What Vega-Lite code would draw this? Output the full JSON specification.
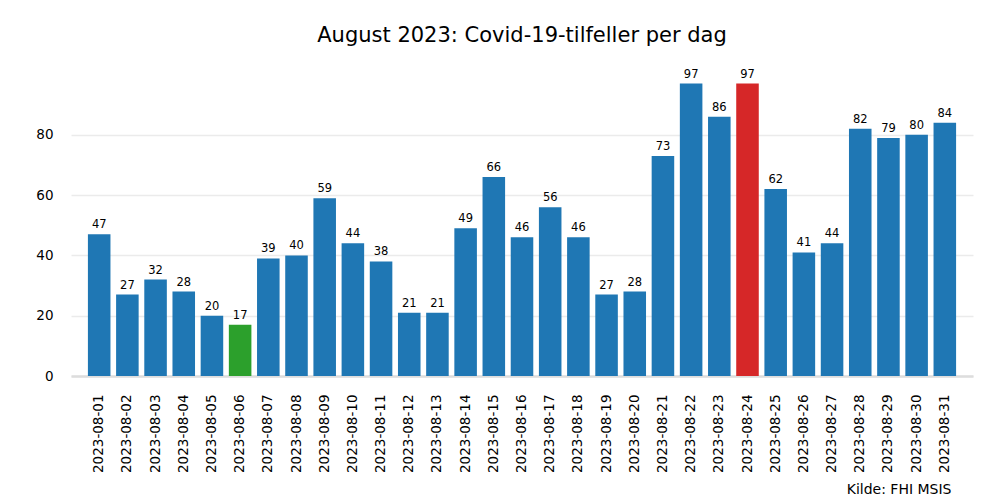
{
  "$schema": "https://vega.github.io/schema/vega-lite/v6.json",
  "width": 902,
  "height": 307,
  "autosize": "none",
  "padding": {"left": 71, "top": 69, "right": 27, "bottom": 124},
  "title": {
    "text": "August 2023: Covid-19-tilfeller per dag",
    "font": "DejaVu Sans",
    "fontSize": 21,
    "fontWeight": "normal",
    "color": "#000000",
    "anchor": "middle",
    "offset": 23
  },
  "data": {
    "values": [
      {"dato": "2023-08-01", "tilfeller": 47, "type": "vanlig"},
      {"dato": "2023-08-02", "tilfeller": 27, "type": "vanlig"},
      {"dato": "2023-08-03", "tilfeller": 32, "type": "vanlig"},
      {"dato": "2023-08-04", "tilfeller": 28, "type": "vanlig"},
      {"dato": "2023-08-05", "tilfeller": 20, "type": "vanlig"},
      {"dato": "2023-08-06", "tilfeller": 17, "type": "lavest"},
      {"dato": "2023-08-07", "tilfeller": 39, "type": "vanlig"},
      {"dato": "2023-08-08", "tilfeller": 40, "type": "vanlig"},
      {"dato": "2023-08-09", "tilfeller": 59, "type": "vanlig"},
      {"dato": "2023-08-10", "tilfeller": 44, "type": "vanlig"},
      {"dato": "2023-08-11", "tilfeller": 38, "type": "vanlig"},
      {"dato": "2023-08-12", "tilfeller": 21, "type": "vanlig"},
      {"dato": "2023-08-13", "tilfeller": 21, "type": "vanlig"},
      {"dato": "2023-08-14", "tilfeller": 49, "type": "vanlig"},
      {"dato": "2023-08-15", "tilfeller": 66, "type": "vanlig"},
      {"dato": "2023-08-16", "tilfeller": 46, "type": "vanlig"},
      {"dato": "2023-08-17", "tilfeller": 56, "type": "vanlig"},
      {"dato": "2023-08-18", "tilfeller": 46, "type": "vanlig"},
      {"dato": "2023-08-19", "tilfeller": 27, "type": "vanlig"},
      {"dato": "2023-08-20", "tilfeller": 28, "type": "vanlig"},
      {"dato": "2023-08-21", "tilfeller": 73, "type": "vanlig"},
      {"dato": "2023-08-22", "tilfeller": 97, "type": "vanlig"},
      {"dato": "2023-08-23", "tilfeller": 86, "type": "vanlig"},
      {"dato": "2023-08-24", "tilfeller": 97, "type": "høyest"},
      {"dato": "2023-08-25", "tilfeller": 62, "type": "vanlig"},
      {"dato": "2023-08-26", "tilfeller": 41, "type": "vanlig"},
      {"dato": "2023-08-27", "tilfeller": 44, "type": "vanlig"},
      {"dato": "2023-08-28", "tilfeller": 82, "type": "vanlig"},
      {"dato": "2023-08-29", "tilfeller": 79, "type": "vanlig"},
      {"dato": "2023-08-30", "tilfeller": 80, "type": "vanlig"},
      {"dato": "2023-08-31", "tilfeller": 84, "type": "vanlig"}
    ]
  },
  "encoding": {
    "x": {
      "field": "dato",
      "type": "ordinal",
      "scale": {"paddingInner": 0.2, "paddingOuter": 0.6},
      "axis": {
        "title": "Kilde: FHI MSIS",
        "titleFont": "DejaVu Sans",
        "titleFontSize": 14,
        "titleFontWeight": "normal",
        "titleColor": "#000000",
        "titleAnchor": "start",
        "titleAlign": "right",
        "titleX": 880,
        "titlePadding": 10,
        "labelAngle": -90,
        "labelFont": "DejaVu Sans",
        "labelFontSize": 13.5,
        "labelColor": "#000000",
        "labelPadding": 18,
        "ticks": false,
        "domainColor": "#dddddd",
        "domainWidth": 2.5,
        "grid": false
      }
    },
    "y": {
      "field": "tilfeller",
      "type": "quantitative",
      "scale": {"domain": [0, 101.85], "nice": false},
      "axis": {
        "title": null,
        "values": [0, 20, 40, 60, 80],
        "labelFont": "DejaVu Sans",
        "labelFontSize": 13.5,
        "labelColor": "#000000",
        "labelPadding": 18,
        "ticks": false,
        "domain": false,
        "grid": true,
        "gridColor": "#ebebeb",
        "gridWidth": 1.5
      }
    }
  },
  "layer": [
    {
      "mark": {"type": "bar"},
      "encoding": {
        "color": {
          "field": "type",
          "type": "nominal",
          "scale": {"domain": ["vanlig", "lavest", "høyest"], "range": ["#1f77b4", "#2ca02c", "#d62728"]},
          "legend": null
        }
      }
    },
    {
      "mark": {"type": "text", "baseline": "bottom", "dy": -4, "font": "DejaVu Sans", "fontSize": 11.5, "color": "#000000"},
      "encoding": {
        "text": {"field": "tilfeller", "type": "quantitative"}
      }
    }
  ],
  "config": {
    "view": {"stroke": null},
    "background": "#ffffff"
  }
}
